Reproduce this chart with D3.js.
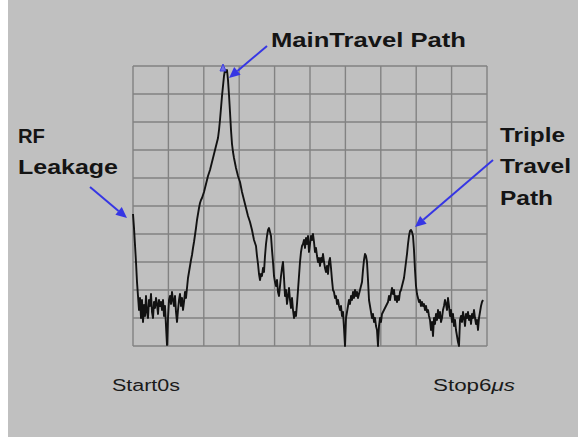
<!DOCTYPE html>
<html>
<head>
<meta charset="utf-8">
<script src="https://cdn.jsdelivr.net/npm/d3@7/dist/d3.min.js"></script>
<style>
  html, body { margin: 0; padding: 0; background: #ffffff; }
  svg { display: block; }
</style>
</head>
<body>
<svg id="chart" width="578" height="437"></svg>
<script>
// Time-domain response of the sweep: 0 to 6 µs, level in dB (10 divisions, 7 dB/div)
const SWEEP_SPAN_US = 6;
const SWEEP_POINTS = 355;

// Trace level (dB) for each recorded sweep point, starting at point 0
const levels = [
  -37, -40.5, -44.75, -49, -54, -57.5, -61, -58, -63, -58.5,
  -64, -59.75, -62.5, -57.5, -61.5, -63, -58.5, -60, -57, -61.5,
  -63, -59, -60.5, -58, -59.5, -62, -58.5, -60, -59, -61,
  -58.5, -62.5, -60, -65, -69.75, -63, -58.5, -57.5, -59.5, -56.5,
  -58.5, -60, -57.5, -61.5, -64, -61, -58.5, -57, -60, -58,
  -61, -59, -56.5, -58, -55.5, -53, -51.5, -50, -48.5, -47.25,
  -45.5, -44, -42.25, -40.5, -38.5, -37, -35.5, -34.25, -33.5, -33,
  -32.25, -31.5, -30.5, -29.5, -28.5, -27.5, -26.75, -26, -25, -24,
  -23, -22, -21, -20, -19, -18, -16, -13.5, -10.5, -7.5,
  -5, -2.5, -1, -1.5, -1, -3.5, -7.25, -11.5, -16, -19.5,
  -21.5, -23, -24.25, -25.5, -26.5, -27.5, -28.25, -29, -30.25, -31.5,
  -32.5, -33.5, -34.5, -35.5, -36.5, -37.5, -38.25, -39, -40, -41,
  -42.25, -43.5, -44.25, -45, -47.5, -49.5, -52, -53.5, -52, -52.5,
  -50.5, -51.5, -47.5, -44.5, -42.5, -41, -40.5, -41.5, -42.5, -46,
  -49, -52.5, -54, -55, -53.5, -56.5, -57.5, -55, -52.5, -50.5,
  -49, -53, -57.5, -56, -59.5, -57.5, -55.5, -58.5, -60.5, -58,
  -61, -63, -61.5, -62.5, -59.5, -56, -52.5, -49, -46.5, -45,
  -44.5, -43.5, -45.5, -43, -44.5, -42.5, -46.5, -44.5, -42.5, -43.5,
  -42, -44, -46.5, -45.5, -47.5, -49, -48, -50, -48, -49,
  -47, -49, -50.5, -51.5, -50, -52, -49, -48, -50.5, -53.5,
  -56, -56.5, -58, -57.5, -59.5, -58.5, -60, -61, -60, -62.5,
  -61.5, -65.5, -70, -63, -61.5, -60, -58.5, -59.5, -57.5, -58.5,
  -56.5, -58, -56, -57.5, -56.5, -58, -57, -56, -55, -54,
  -51, -48.5, -47, -47.5, -49, -53.5, -58.5, -60, -61.5, -63,
  -62, -64, -63, -65, -66, -70, -65, -63, -64, -62,
  -61.5, -61, -60.5, -60, -59.5, -59, -57.5, -58.5, -57, -55.5,
  -57, -56, -58.5, -57.5, -59, -57.5, -58.5, -56.5, -56, -55,
  -54, -53, -51, -49, -47, -44.5, -42.5, -41.25, -41, -41.5,
  -42.5, -46, -51, -55, -57, -58, -59, -58.5, -60, -59,
  -60, -59.5, -61, -60, -61.5, -61, -62.5, -63.5, -66, -64,
  -67.5, -63, -64.5, -62, -63.5, -61, -63, -61.5, -64, -63,
  -61, -60, -58.5, -59.5, -61, -58, -60, -62.5, -61, -64,
  -62, -65, -63.5, -66, -67.5, -69, -70, -63.5, -62.5, -64,
  -61.5, -63, -65, -62, -63, -61.5, -63.5, -62.5, -64.5, -62,
  -63, -61, -63, -64.5, -63.5, -66, -63, -61.5, -60, -59, -58.5
];

// Graticule: 10 time divisions, 10 level divisions
const timeGrid = [0, 0.6, 1.2, 1.8, 2.4, 3.0, 3.6, 4.2, 4.8, 5.4, 6.0];
const levelGrid = [-70, -63, -56, -49, -42, -35, -28, -21, -14, -7, 0];

// Sweep-edge labels
const startLabel = "Start0s";
const stopLabel = "Stop6";
const stopUnit = "\u03bcs";

// Callouts: label lines and the sweep point each arrow points at
const callouts = [
  { lines: ["RF", "Leakage"], point: 0 },
  { lines: ["MainTravel Path"], point: 94 },
  { lines: ["Triple", "Travel", "Path"], point: 278 }
];

const svg = d3.select("#chart");
const W = 578, H = 437;

const x = d3.scaleLinear().domain([0, SWEEP_SPAN_US]).range([133, 487]);
const y = d3.scaleLinear().domain([-70, 0]).range([346, 66]);
const timeOf = i => i * SWEEP_SPAN_US / (SWEEP_POINTS - 1);

// Panel background
svg.append("rect").attr("x", 0).attr("y", 0).attr("width", W).attr("height", H).attr("fill", "#ffffff");
svg.append("rect").attr("x", 8).attr("y", 0).attr("width", W - 8).attr("height", H).attr("fill", "#c0c0c0");

// Graticule
const grid = svg.append("g").attr("stroke", "#828282").attr("stroke-width", 1.4).attr("fill", "none");
grid.selectAll("line.v").data(timeGrid).join("line")
  .attr("class", "v")
  .attr("x1", d => x(d)).attr("x2", d => x(d))
  .attr("y1", y(levelGrid[0])).attr("y2", y(levelGrid[levelGrid.length - 1]));
grid.selectAll("line.h").data(levelGrid).join("line")
  .attr("class", "h")
  .attr("y1", d => y(d)).attr("y2", d => y(d))
  .attr("x1", x(timeGrid[0])).attr("x2", x(timeGrid[timeGrid.length - 1]));

// Trace
const line = d3.line()
  .x((d, i) => x(timeOf(i)))
  .y(d => y(d));
svg.append("path")
  .datum(levels)
  .attr("d", line)
  .attr("fill", "none")
  .attr("stroke", "#121212")
  .attr("stroke-width", 1.9)
  .attr("stroke-linejoin", "round");

// Peak marker
const peakIdx = levels.indexOf(d3.max(levels));
const px = x(timeOf(peakIdx)), py = y(levels[peakIdx]);
svg.append("path")
  .attr("d", `M${px - 5},${py + 1} L${px - 2},${py - 6} L${px + 1},${py + 1} Z`)
  .attr("fill", "#7070e6").attr("stroke", "#4040e0").attr("stroke-width", 1);

// Arrows
const BLUE = "#3636e4";
function arrow(x1, y1, x2, y2) {
  const ang = Math.atan2(y2 - y1, x2 - x1);
  const L = 11, Wd = 5;
  const bx = x2 - L * Math.cos(ang), by = y2 - L * Math.sin(ang);
  svg.append("line").attr("x1", x1).attr("y1", y1).attr("x2", bx).attr("y2", by)
    .attr("stroke", BLUE).attr("stroke-width", 2);
  svg.append("path")
    .attr("d", `M${x2},${y2} L${bx + Wd * Math.sin(ang)},${by - Wd * Math.cos(ang)} L${bx - Wd * Math.sin(ang)},${by + Wd * Math.cos(ang)} Z`)
    .attr("fill", BLUE);
}
const tip = i => [x(timeOf(callouts[i].point)), y(levels[callouts[i].point])];

let t = tip(0);
arrow(90, 187, t[0] - 6, t[1] + 4);
t = tip(1);
arrow(267, 46, t[0] + 2, t[1] + 8);
t = tip(2);
arrow(493, 160, t[0] + 4, t[1] - 3);

// Callout labels
const labelFont = "'Liberation Sans', Arial, sans-serif";
function label(txt, lx, ly, len) {
  svg.append("text").attr("x", lx).attr("y", ly)
    .attr("font-family", labelFont).attr("font-weight", "bold").attr("font-size", 21)
    .attr("fill", "#141414")
    .attr("textLength", len).attr("lengthAdjust", "spacingAndGlyphs")
    .text(txt);
}
label(callouts[0].lines[0], 18, 143, 27);
label(callouts[0].lines[1], 18, 174, 100);
label(callouts[1].lines[0], 271, 47, 195);
label(callouts[2].lines[0], 500, 142, 65);
label(callouts[2].lines[1], 500, 173, 71);
label(callouts[2].lines[2], 500, 205, 53);

// Sweep-edge labels
svg.append("text").attr("x", 112).attr("y", 391)
  .attr("font-family", labelFont).attr("font-size", 16).attr("fill", "#1a1a1a")
  .attr("textLength", 68).attr("lengthAdjust", "spacingAndGlyphs")
  .text(startLabel);
const stop = svg.append("text").attr("x", 433).attr("y", 391)
  .attr("font-family", labelFont).attr("font-size", 16).attr("fill", "#1a1a1a")
  .attr("textLength", 82).attr("lengthAdjust", "spacingAndGlyphs");
stop.append("tspan").text(stopLabel);
stop.append("tspan").attr("font-style", "italic").text(stopUnit);
</script>
</body>
</html>
